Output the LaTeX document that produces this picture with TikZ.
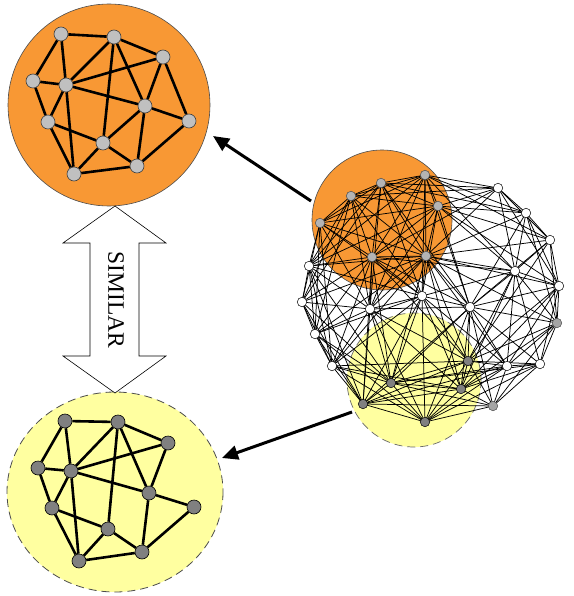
\documentclass[tikz,border=0pt]{standalone}
\usepackage{fontspec}
\setmainfont{Liberation Serif}
\usetikzlibrary{arrows.meta}
\definecolor{orng}{RGB}{248,152,52}
\definecolor{ylw}{RGB}{255,255,160}
\definecolor{lgray}{RGB}{192,192,192}
\definecolor{mgray}{RGB}{165,165,165}
\definecolor{dgray}{RGB}{128,128,128}
\definecolor{cgray}{RGB}{180,180,180}
\pgfdeclarelayer{back}
\pgfdeclarelayer{edges}
\pgfsetlayers{back,edges,main}
\begin{document}
\begin{tikzpicture}[x=1pt,y=-1pt,
  bigedge/.style={line width=2.6pt,black},
  tlnode/.style={circle,draw=black!75,line width=0.6pt,fill=lgray,minimum size=14pt,inner sep=0pt},
  blnode/.style={tlnode,fill=dgray,draw=black},
  cedge/.style={line width=0.75pt,black},
  cno/.style={circle,draw=black!70,line width=0.5pt,fill=cgray,minimum size=9.5pt,inner sep=0pt},
  cnw/.style={cno,fill=white,draw=black},
  cny/.style={cno,fill=dgray,draw=black},
  cng/.style={cno,fill=mgray},
  bigarrow/.style={line width=3pt,black,-{Triangle[length=16pt,width=14pt]}},
]
\useasboundingbox (0,0) rectangle (573,596);

% ---------- background circles ----------
\begin{pgfonlayer}{back}
\fill[white] (0,0) rectangle (573,596);
\draw[fill=orng,draw=black!70,line width=0.6pt] (109,105) circle [radius=101];
\draw[fill=ylw,draw=black!70,line width=0.8pt,dash pattern=on 8pt off 5pt] (115,492) ellipse [x radius=108,y radius=100];
\draw[fill=orng,draw=black!70,line width=0.6pt] (382,220) circle [radius=70];
\draw[fill=ylw,draw=black!60,line width=0.7pt,dash pattern=on 8pt off 5pt] (414,380) circle [radius=67];
\end{pgfonlayer}

% ---------- top-left graph ----------
\foreach \n/\x/\y in {A/61/34,B/114/37,C/163/57,D/33/81,E/66/85,F/145/106,G/189/121,H/48/122,I/103/143,J/137/166,K/74/174}
  \node[tlnode] (t\n) at (\x,\y) {};
\begin{pgfonlayer}{edges}
\foreach \a/\b in {A/B,A/D,A/E,B/E,B/C,B/I,B/F,C/E,C/F,C/G,D/E,D/H,E/H,E/F,E/K,F/G,F/I,F/J,G/J,H/I,H/K,I/K,I/J,K/J}
  \draw[bigedge] (t\a) -- (t\b);
\end{pgfonlayer}

% ---------- bottom-left graph ----------
\foreach \n/\x/\y in {A/65/421,B/118/422,C/168/443,D/38/468,E/71/471,F/149/493,G/194/507,H/52/508,I/108/529,J/142/552,K/79/561}
  \node[blnode] (b\n) at (\x,\y) {};
\begin{pgfonlayer}{edges}
\foreach \a/\b in {A/B,A/D,A/E,B/E,B/C,B/I,B/F,C/E,C/F,D/E,D/H,E/H,E/F,E/K,F/G,F/J,G/J,H/I,H/K,I/K,I/J,K/J}
  \draw[bigedge] (b\a) -- (b\b);
\end{pgfonlayer}

% ---------- double arrow ----------
\draw[fill=white,draw=black,line width=0.6pt]
  (115,206) -- (166,243) -- (139,243) -- (139,356) -- (166,356) -- (115,393)
  -- (63,356) -- (90,356) -- (90,243) -- (63,243) -- cycle;
\node[rotate=-90,inner sep=0pt,font=\fontsize{23.5}{28}\selectfont] (sim) at (116,300) {SIMILAR};

% ---------- right cluster ----------
\def\cl{o1/425/175/o,o2/381/183/o,o3/351/196/o,o4/438/206/o,o5/320/223/o,o6/372/257/o,o7/426/256/o,w1/498/188/w,w2/526/213/w,w3/550/240/w,w4/515/271/w,w5/559/286/w,w6/309/266/w,w7/302/302/w,w8/370/309/w,w9/422/296/w,w10/470/307/w,w11/315/334/w,w12/332/366/w,w13/507/366/w,w14/540/364/w,g1/557/323/g,g2/493/406/g,y1/468/361/y,y2/391/383/y,y3/461/389/y,y4/363/404/y,y5/425/422/y}
\foreach \n/\x/\y/\t in \cl
  \node[cn\t] (\n) at (\x,\y) {};
\begin{pgfonlayer}{edges}
\foreach \a/\ax/\ay/\ag [count=\i] in \cl {
  \foreach \b/\bx/\by/\bg [count=\j] in \cl {
    \ifnum\j>\i
      \pgfmathsetmacro\mydist{veclen(\bx-\ax,\by-\ay)}
      \def\mylim{118}
      \if\ag o\def\mylim{155}\fi
      \if\ag y\def\mylim{155}\fi
      \if\bg o\def\mylim{155}\fi
      \if\bg y\def\mylim{155}\fi
      \ifdim\mydist pt<\mylim pt \draw[cedge] (\a.center) -- (\b.center);\fi
    \fi
  }
}
\end{pgfonlayer}

% ---------- arrows ----------
\coordinate (a1s) at (311,201);
\coordinate (a1e) at (213,136);
\coordinate (a2s) at (352,412);
\coordinate (a2e) at (222,458);
\draw[bigarrow] (a1s) -- (a1e);
\draw[bigarrow] (a2s) -- (a2e);
\end{tikzpicture}
\end{document}
